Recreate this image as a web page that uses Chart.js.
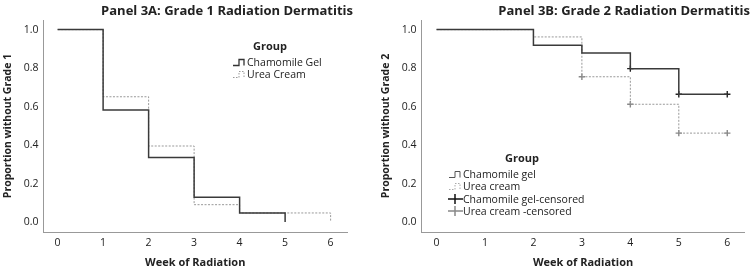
<!DOCTYPE html>
<html lang="en">
<head>
    <meta charset="UTF-8">
    <title>Kaplan-Meier: Radiation Dermatitis</title>
    <script src="https://cdn.jsdelivr.net/npm/chart.js"></script>
    <style>
        body {
            margin: 0;
            background: #fff;
            font-family: 'Open Sans', sans-serif;
            color: #222;
        }
        .wrap {
            position: relative;
            width: 756px;
            height: 271px;
        }
        .panel {
            position: absolute;
            top: 0;
            width: 378px;
            height: 271px;
        }
        .legend {
            position: absolute;
            font-size: 10.5px;
            line-height: 12.5px;
            color: #222;
        }
        .legend .head {
            font-weight: bold;
            font-size: 11px;
            text-align: center;
            margin-bottom: 3px;
        }
        .legend .row {
            display: flex;
            align-items: center;
            white-space: nowrap;
        }
        .legend svg {
            width: 15px;
            height: 10px;
            flex: none;
        }
    </style>
</head>
<body>
<div class="wrap">
    <div class="panel" style="left:0">
        <canvas id="chartA" width="378" height="271"></canvas>
        <div class="legend" style="left:232px; top:40px; width:110px;">
            <div class="head" style="width:76px">Group</div>
            <div class="row"><svg viewBox="0 0 15 10"><path d="M1 8.5H7V2.5H12V8.5" fill="none" stroke="#333" stroke-width="1.3"/></svg>Chamomile Gel</div>
            <div class="row"><svg viewBox="0 0 15 10"><path d="M1 8.5H7V2.5H12V8.5" fill="none" stroke="#999" stroke-width="1" stroke-dasharray="1.5 1.5"/></svg>Urea Cream</div>
        </div>
    </div>
    <div class="panel" style="left:378px">
        <canvas id="chartB" width="378" height="271"></canvas>
        <div class="legend" style="left:70px; top:152px; width:140px;">
            <div class="head" style="width:148px">Group</div>
            <div class="row"><svg viewBox="0 0 15 10"><path d="M1 8.5H7V2.5H12V8.5" fill="none" stroke="#555" stroke-width="1"/></svg>Chamomile gel</div>
            <div class="row"><svg viewBox="0 0 15 10"><path d="M1 8.5H7V2.5H12V8.5" fill="none" stroke="#aaa" stroke-width="1" stroke-dasharray="1.5 1.5"/></svg>Urea cream</div>
            <div class="row"><svg viewBox="0 0 15 10"><path d="M0 5H15M7 0V10" fill="none" stroke="#111" stroke-width="1.5"/></svg>Chamomile gel-censored</div>
            <div class="row"><svg viewBox="0 0 15 10"><path d="M0 5H15M7 0V10" fill="none" stroke="#888" stroke-width="1.5"/></svg>Urea cream -censored</div>
        </div>
    </div>
</div>

<script>
    // ticks shared by both panels
    const weekTicks = [0, 1, 2, 3, 4, 5, 6];
    const propTicks = [0, 0.2, 0.4, 0.6, 0.8, 1.0];

    // Panel 3A: grade 1
    const gelWeeksA = [0, 1, 2, 3, 4, 5];
    const gelPropA = [1.0, 0.582, 0.335, 0.128, 0.047, 0.0];
    const ureaWeeksA = [0, 1, 2, 3, 4, 6];
    const ureaPropA = [1.0, 0.651, 0.395, 0.090, 0.047, 0.0];

    // Panel 3B: grade 2
    const gelWeeksB = [0, 2, 3, 4, 5, 6];
    const gelPropB = [1.0, 0.919, 0.879, 0.797, 0.664, 0.664];
    const ureaWeeksB = [0, 2, 3, 4, 5, 6];
    const ureaPropB = [1.0, 0.962, 0.755, 0.612, 0.462, 0.462];
    const gelCensWeeksB = [4, 5, 6];
    const gelCensPropB = [0.797, 0.664, 0.664];
    const ureaCensWeeksB = [3, 4, 5, 6];
    const ureaCensPropB = [0.755, 0.612, 0.462, 0.462];

    const FONT = "'Open Sans', sans-serif";
    const TXT = '#222';

    function pts(xs, ys) {
        return xs.map((x, i) => ({ x: x, y: ys[i] }));
    }

    function stepLine(xs, ys, color, width, dash) {
        return {
            data: pts(xs, ys),
            borderColor: color,
            borderWidth: width,
            borderDash: dash || [],
            stepped: 'before',
            pointRadius: 0,
            fill: false
        };
    }

    function censored(xs, ys, color) {
        return {
            type: 'scatter',
            data: pts(xs, ys),
            showLine: false,
            pointStyle: 'cross',
            pointRadius: 3.2,
            borderColor: color,
            borderWidth: 1.4,
            backgroundColor: color
        };
    }

    // gapRight: empty strip between plot and right edge of title
    function makeChart(id, title, yTitle, datasets, padRight, gapRight) {
        return new Chart(document.getElementById(id), {
            type: 'line',
            data: { datasets: datasets },
            options: {
                responsive: false,
                animation: false,
                layout: { padding: { left: 0, right: padRight, top: 0, bottom: 0 } },
                plugins: {
                    legend: { display: false },
                    tooltip: { enabled: false },
                    title: {
                        display: true,
                        text: title,
                        align: 'end',
                        color: TXT,
                        font: { family: FONT, size: 13, weight: 'bold', lineHeight: 1.2 },
                        padding: { top: 3, bottom: 1.4 }
                    }
                },
                scales: {
                    x: {
                        type: 'linear',
                        min: -0.31,
                        max: 6.36,
                        afterBuildTicks: s => { s.ticks = weekTicks.map(v => ({ value: v })); },
                        afterFit: s => { s.height = 39; },
                        grid: { display: false, drawTicks: false },
                        border: { color: '#999', width: 1 },
                        ticks: { color: TXT, padding: 5, font: { family: FONT, size: 10.5 } },
                        title: {
                            display: true,
                            text: 'Week of Radiation',
                            color: TXT,
                            font: { family: FONT, size: 11, weight: 'bold' },
                            padding: { top: 0, bottom: 2 }
                        }
                    },
                    y: {
                        min: -0.052,
                        max: 1.05,
                        afterBuildTicks: s => { s.ticks = propTicks.map(v => ({ value: v })); },
                        afterFit: s => { s.width = 43.5; },
                        grid: { display: false, drawTicks: false },
                        border: { color: '#999', width: 1 },
                        ticks: {
                            color: TXT,
                            padding: 5,
                            font: { family: FONT, size: 10.5 },
                            callback: v => v.toFixed(1)
                        },
                        title: {
                            display: true,
                            text: yTitle,
                            color: TXT,
                            font: { family: FONT, size: 10.5, weight: 'bold' },
                            padding: { top: 2, bottom: 0 }
                        }
                    },
                    // blank spacer so the title can run past the plot's right edge
                    gap: {
                        position: 'right',
                        afterFit: s => { s.width = gapRight; },
                        grid: { display: false, drawTicks: false },
                        border: { display: false },
                        ticks: { display: false }
                    }
                }
            }
        });
    }

    makeChart('chartA', 'Panel 3A: Grade 1 Radiation Dermatitis', 'Proportion without Grade 1', [
        stepLine(gelWeeksA, gelPropA, '#3a3a3a', 1.5),
        stepLine(ureaWeeksA, ureaPropA, '#999', 1, [2, 1.5])
    ], 25, 6);

    makeChart('chartB', 'Panel 3B: Grade 2 Radiation Dermatitis', 'Proportion without Grade 2', [
        stepLine(gelWeeksB, gelPropB, '#3a3a3a', 1.5),
        stepLine(ureaWeeksB, ureaPropB, '#999', 1, [2, 1.5]),
        censored(gelCensWeeksB, gelCensPropB, '#222'),
        censored(ureaCensWeeksB, ureaCensPropB, '#888')
    ], 6, 5.3);
</script>
</body>
</html>
